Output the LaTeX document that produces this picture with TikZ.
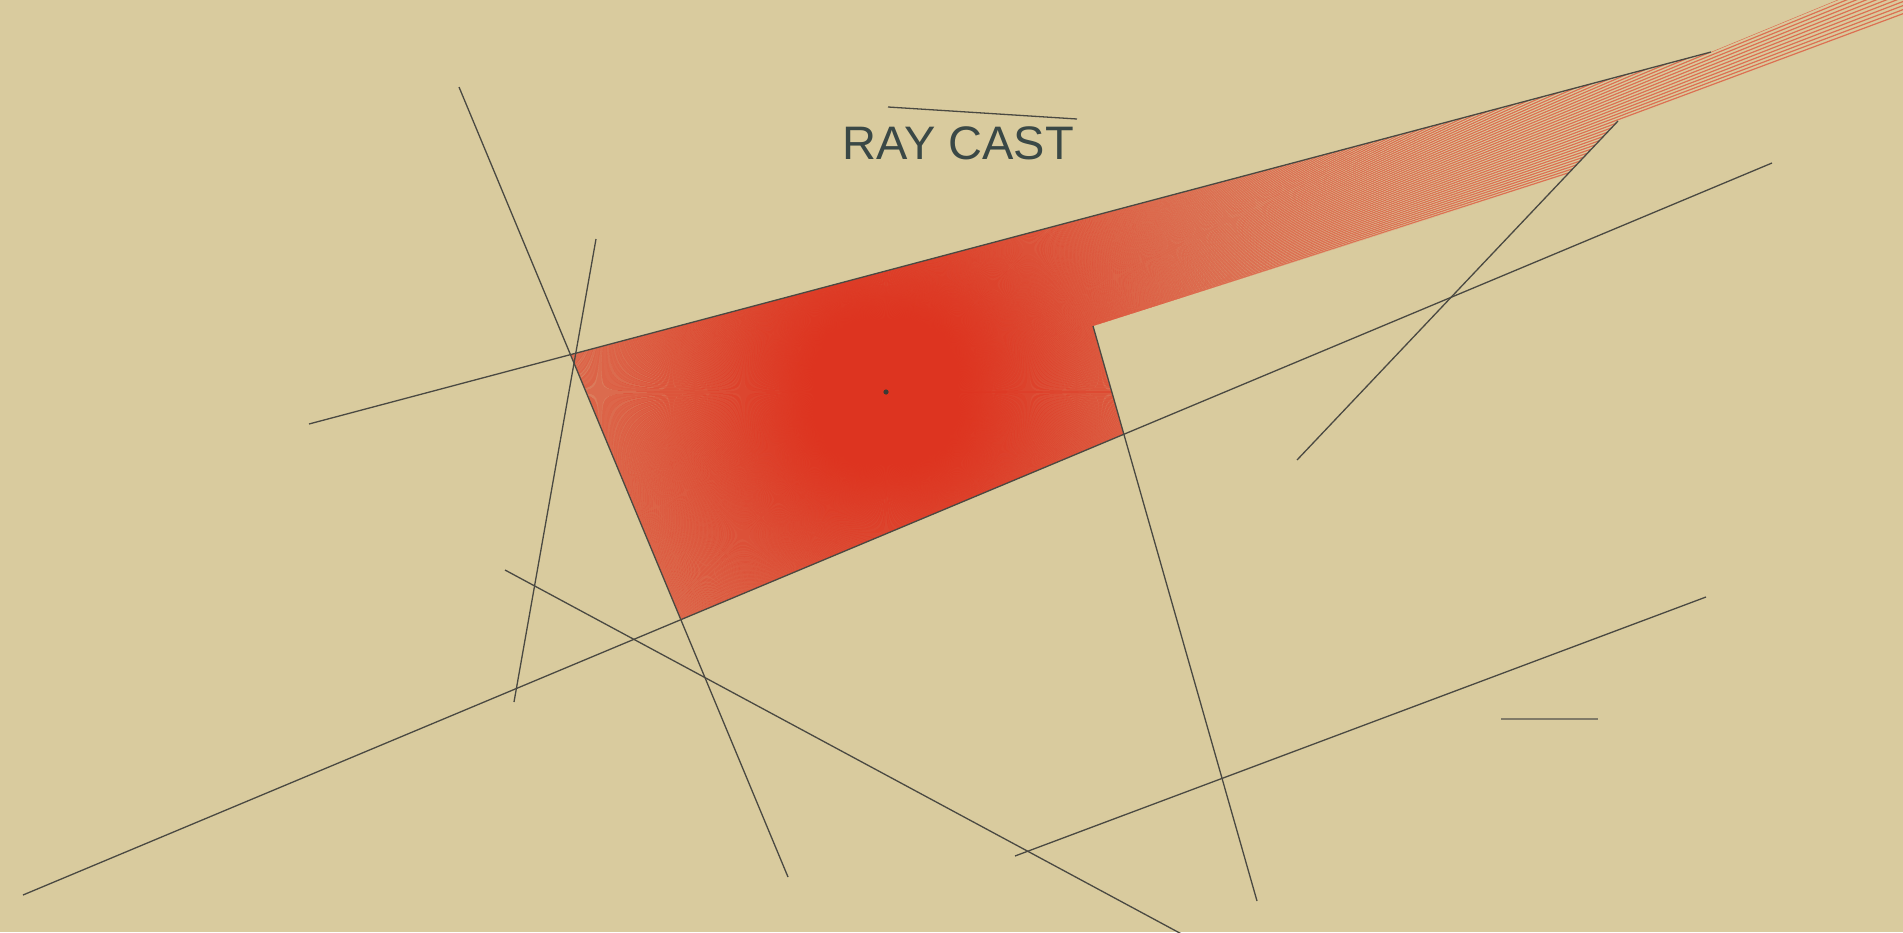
\documentclass[tikz,border=0pt]{standalone}
\usepackage{fontspec}
\setmainfont{Liberation Sans}
\usetikzlibrary{calc}
\definecolor{bgcol}{RGB}{217,203,158}
\definecolor{wallcol}{RGB}{74,73,66}
\definecolor{raycol}{RGB}{222,52,32}
\definecolor{txtcol}{RGB}{58,72,70}
\definecolor{greycol}{RGB}{129,123,104}
\tikzset{
  wall/.style={draw=wallcol,line width=1.3pt},
  ray/.style={draw=raycol,line width=1.2pt,opacity=0.6},
}
\begin{document}
\begin{tikzpicture}[x=1pt,y=-1pt]
\useasboundingbox (0,0) rectangle (1903,932);
\fill[bgcol] (0,0) rectangle (1903,932);
\clip (0,0) rectangle (1903,932);
% wall end points
\coordinate (L1a) at (459,87);   \coordinate (L1b) at (788,877);
\coordinate (L2a) at (596,239);  \coordinate (L2b) at (514,702);
\coordinate (L3a) at (309,424);  \coordinate (L3b) at (1711,52);
\coordinate (L4a) at (23,895);   \coordinate (L4b) at (1772,163);
\coordinate (L5a) at (1618,121); \coordinate (L5b) at (1297,460);
\coordinate (L6a) at (1093,326); \coordinate (L6b) at (1257,901);
\coordinate (L7a) at (505,570);  \coordinate (L7b) at (1189,938);
\coordinate (L8a) at (1015,856); \coordinate (L8b) at (1706,597);
\coordinate (T1) at (888,107);   \coordinate (T2) at (1077,119);
\coordinate (S1) at (1501,719);  \coordinate (S2) at (1598,719);
\coordinate (L) at (886,392);
% lit region corners
\coordinate (A) at (intersection of L1a--L1b and L3a--L3b);
\coordinate (P) at (intersection of L--L6a and L5a--L5b);
\coordinate (Q) at (intersection of L6a--L6b and L4a--L4b);
\coordinate (R) at (intersection of L4a--L4b and L1a--L1b);
\begin{scope}
\clip (A) -- (L3b) -- ($(L)!3!(L3b)$) -- ($(L)!3!(L5a)$) -- (L5a) -- (P) -- (L6a) -- (Q) -- (R) -- cycle;
\foreach \i [evaluate=\i as \a using \i*0.2] in {0,...,1799}
  \draw[ray] (L) -- ++(\a:1200);
\end{scope}
% walls
\foreach \s in {1,...,8} \draw[wall] (L\s a) -- (L\s b);
\draw[wall] (T1) -- (T2);
\draw[draw=greycol,line width=2.6pt] (S1) -- (S2);
\fill[wallcol!80!black] (L) circle (2.6);
\node[anchor=base west,inner sep=0pt,text=txtcol,font=\fontsize{47}{50}\selectfont] (title) at (842,159) {RAY CAST};
\end{tikzpicture}
\end{document}
